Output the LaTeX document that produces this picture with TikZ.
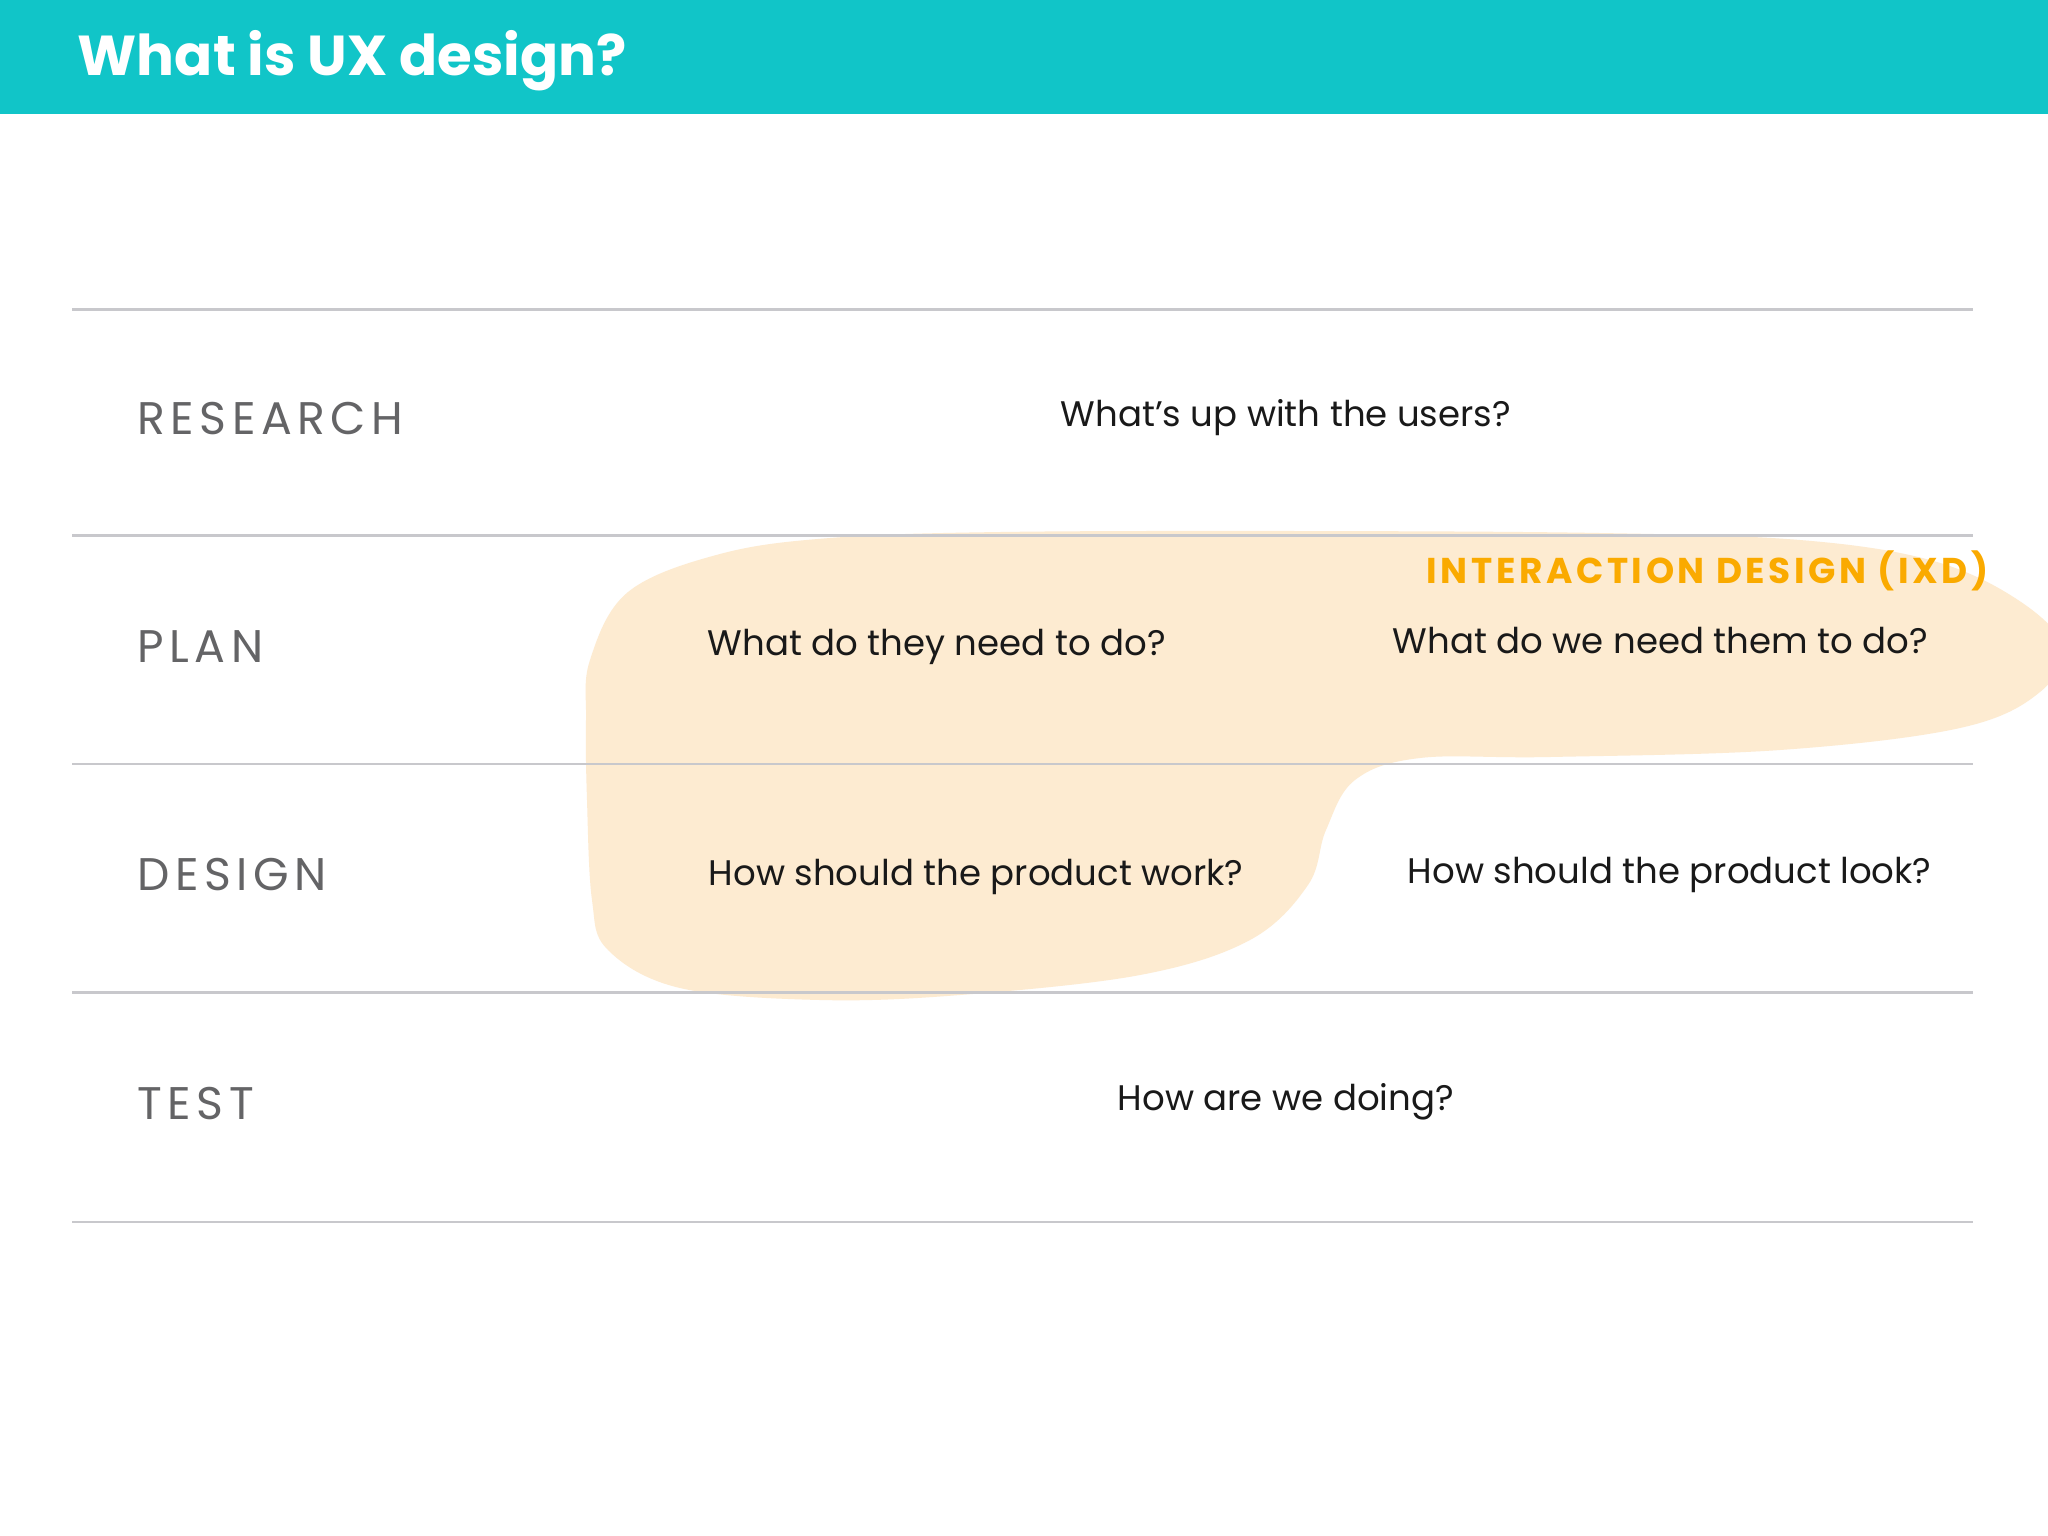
\documentclass[tikz,border=0pt]{standalone}
\usepackage{fontspec}
\setmainfont{Poppins}
\definecolor{headerteal}{RGB}{17,197,200}
\definecolor{blobfill}{RGB}{253,235,209}
\definecolor{ixdorange}{RGB}{250,170,0}
\definecolor{labelgray}{RGB}{100,100,102}
\definecolor{rulegray}{RGB}{200,200,204}
\definecolor{qblack}{RGB}{25,25,25}
\tikzset{
  titletext/.style={anchor=base west, inner sep=0pt, text=white, font=\fontsize{16}{19}\selectfont\bfseries},
  rowlabel/.style={anchor=base west, inner sep=0pt, text=labelgray, font=\fontsize{13}{15}\selectfont\addfontfeatures{LetterSpace=12}},
  question/.style={anchor=base west, inner sep=0pt, text=qblack, font=\fontsize{10.1}{12}\selectfont},
  ixdlabel/.style={anchor=base west, inner sep=0pt, text=ixdorange, font=\fontsize{10.2}{12}\selectfont\bfseries\addfontfeatures{LetterSpace=10}},
  rowrule/.style={draw=rulegray, line width=0.7pt},
}
\begin{document}
\begin{tikzpicture}[x=0.01cm, y=-0.01cm]
\useasboundingbox (0,0) rectangle (2048,1536);
\clip (0,0) rectangle (2048,1536);
\fill[white] (0,0) rectangle (2048,1536);
% header
\fill[headerteal] (0,0) rectangle (2048,114);
\node[titletext] (title) at (77,75) {What is UX design?};
% blob
\fill[blobfill] plot[smooth cycle, tension=0.6] coordinates {
 (590,660) (628,592) (720,554) (830,538) (1000,532) (1300,531) (1600,533)
 (1800,540) (1930,560) (2015,598) (2062,645) (2040,692) (1960,728) (1780,750)
 (1550,757) (1420,758) (1355,780) (1326,830) (1308,885) (1250,940) (1140,975)
 (960,995) (820,1000) (680,988) (608,950) (592,900) (587,800) (586,720)};
% rules
\coordinate (r0l) at (72,309.5); \coordinate (r0r) at (1973,309.5);
\coordinate (r1l) at (72,535.5); \coordinate (r1r) at (1973,535.5);
\coordinate (r2l) at (72,764);   \coordinate (r2r) at (1973,764);
\coordinate (r3l) at (72,992.6); \coordinate (r3r) at (1973,992.6);
\coordinate (r4l) at (72,1222);  \coordinate (r4r) at (1973,1222);
\draw[rowrule] (r0l) -- (r0r);
\draw[rowrule] (r1l) -- (r1r);
\draw[rowrule] (r2l) -- (r2r);
\draw[rowrule] (r3l) -- (r3r);
\draw[rowrule] (r4l) -- (r4r);
% row labels
\node[rowlabel] (research) at (137,434) {RESEARCH};
\node[rowlabel] (plan) at (137,662) {PLAN};
\node[rowlabel] (design) at (137,890) {DESIGN};
\node[rowlabel] (test) at (137,1119) {TEST};
% questions
\node[question] (q1) at (1060,426) {What’s up with the users?};
\node[question] (q2a) at (707,655) {What do they need to do?};
\node[question] (q2b) at (1392,653) {What do we need them to do?};
\node[question] (q3a) at (708,885) {How should the product work?};
\node[question] (q3b) at (1407,883) {How should the product look?};
\node[question] (q4) at (1117,1110) {How are we doing?};
% IXD
\node[ixdlabel] (ixd) at (1426,583) {INTERACTION DESIGN (IXD)};
\end{tikzpicture}
\end{document}
